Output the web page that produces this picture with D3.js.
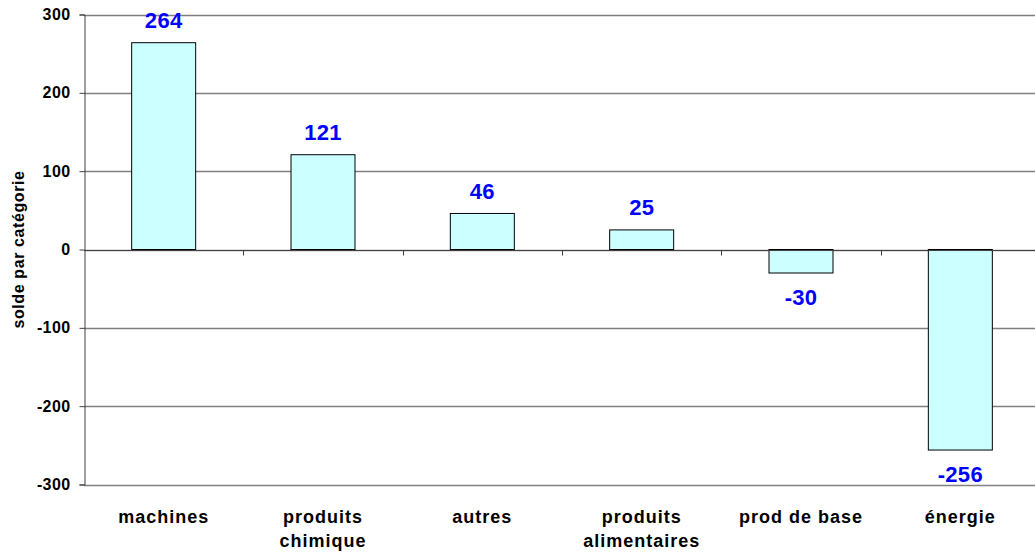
<!DOCTYPE html>
<html>
<head>
<meta charset="utf-8">
<script src="https://cdn.jsdelivr.net/npm/d3@7"></script>
<style>
  body { margin: 0; background: #fff; }
  svg { font-family: Arial, "Liberation Sans", sans-serif; }
</style>
</head>
<body>
<svg id="chart" width="1035" height="554"></svg>
<script>
// category labels (lines) and balance values
var categories = [
  ['machines'],
  ['produits', 'chimique'],
  ['autres'],
  ['produits', 'alimentaires'],
  ['prod de base'],
  ['énergie']
];
var values = [264, 121, 46, 25, -30, -256];
var yTicks = [-300, -200, -100, 0, 100, 200, 300];
var yTitle = 'solde par catégorie';

var svg = d3.select('#chart');
// note: "top" is a reserved window prop, so plot* names
var plotLeft = 84, plotRight = 1040, plotTop = 14.5, plotBottom = 484.5;

var x = d3.scaleBand()
  .domain(d3.range(categories.length))
  .range([plotLeft, plotRight])
  .paddingInner(0)
  .paddingOuter(0);

var y = d3.scaleLinear()
  .domain([-300, 300])
  .range([plotBottom, plotTop]);

// gridlines
svg.append('g')
  .selectAll('line')
  .data(yTicks)
  .enter().append('line')
  .attr('x1', plotLeft).attr('x2', plotRight)
  .attr('y1', function (d) { return Math.round(y(d)) + 0.5; })
  .attr('y2', function (d) { return Math.round(y(d)) + 0.5; })
  .attr('stroke', '#808080')
  .attr('stroke-width', 1.3);

// y axis (plain hyphen for negatives, like the original)
var yAxis = svg.append('g')
  .attr('transform', 'translate(' + (plotLeft + 0.5) + ',0)')
  .call(d3.axisLeft(y).tickValues(yTicks).tickSize(5).tickPadding(9)
    .tickFormat(function (d) { return String(d); }));
yAxis.select('.domain').attr('stroke', '#404040');
yAxis.selectAll('.tick line').attr('stroke', '#404040');
yAxis.selectAll('.tick text')
  .attr('fill', '#000')
  .style('font-size', '16px')
  .style('font-weight', 'bold')
  .style('letter-spacing', '0.4px')
  .style('font-family', 'Arial, "Liberation Sans", sans-serif');

// bars
var barW = 64;
svg.append('g')
  .selectAll('rect')
  .data(values)
  .enter().append('rect')
  .attr('x', function (d, i) { return x(i) + (x.bandwidth() - barW) / 2; })
  .attr('y', function (d) { return y(Math.max(0, d)); })
  .attr('width', barW)
  .attr('height', function (d) { return Math.abs(y(d) - y(0)); })
  .attr('fill', '#ccffff')
  .attr('stroke', '#000')
  .attr('stroke-width', 1);

// x axis at zero, ticks between categories
var zeroY = Math.round(y(0)) + 0.5;
svg.append('line')
  .attr('x1', plotLeft).attr('x2', plotRight)
  .attr('y1', zeroY).attr('y2', zeroY)
  .attr('stroke', '#404040');
svg.append('g')
  .selectAll('line')
  .data(d3.range(1, categories.length))
  .enter().append('line')
  .attr('x1', function (i) { return Math.round(x(i)) + 0.5; })
  .attr('x2', function (i) { return Math.round(x(i)) + 0.5; })
  .attr('y1', zeroY).attr('y2', zeroY + 5)
  .attr('stroke', '#404040');

// value labels
svg.append('g')
  .selectAll('text')
  .data(values)
  .enter().append('text')
  .attr('x', function (d, i) { return x(i) + x.bandwidth() / 2; })
  .attr('y', function (d) { return d >= 0 ? y(d) - 14.5 : y(d) + 32; })
  .attr('text-anchor', 'middle')
  .attr('fill', '#0000ff')
  .style('font-size', '22px')
  .style('font-weight', 'bold')
  .style('letter-spacing', '0.3px')
  .text(function (d) { return d; });

// category labels
var cat = svg.append('g')
  .selectAll('text')
  .data(categories)
  .enter().append('text')
  .attr('text-anchor', 'middle')
  .attr('fill', '#000')
  .style('font-size', '18px')
  .style('font-weight', 'bold')
  .style('letter-spacing', '1px');
cat.selectAll('tspan')
  .data(function (d, i) { return d.map(function (t) { return {t: t, i: i}; }); })
  .enter().append('tspan')
  .attr('x', function (d) { return x(d.i) + x.bandwidth() / 2; })
  .attr('y', function (d, j) { return 523 + j * 24; })
  .text(function (d) { return d.t; });

// y title
svg.append('text')
  .attr('transform', 'translate(24,' + y(0) + ') rotate(-90)')
  .attr('text-anchor', 'middle')
  .attr('fill', '#000')
  .style('font-size', '16px')
  .style('font-weight', 'bold')
  .style('letter-spacing', '0.6px')
  .text(yTitle);
</script>
</body>
</html>
